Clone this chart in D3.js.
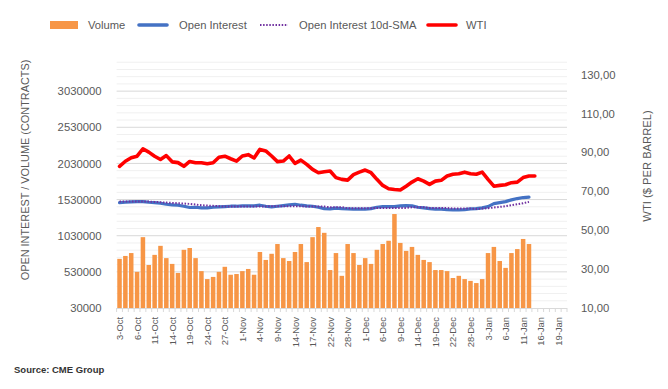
<!DOCTYPE html>
<html>
<head>
<meta charset="utf-8">
<script src="https://cdn.jsdelivr.net/npm/d3@7/dist/d3.min.js"></script>
<style>
  body { margin: 0; background: #fff; }
  text { font-family: "Liberation Sans", Arial, sans-serif; fill: #595959; }
</style>
</head>
<body>
<div id="chart"></div>
<script>
// trading days shown on the category axis
var dates = ["3-Oct","4-Oct","5-Oct","6-Oct","7-Oct","10-Oct","11-Oct","12-Oct","13-Oct","14-Oct",
  "17-Oct","18-Oct","19-Oct","20-Oct","21-Oct","24-Oct","25-Oct","26-Oct","27-Oct","28-Oct","31-Oct",
  "1-Nov","2-Nov","3-Nov","4-Nov","7-Nov","8-Nov","9-Nov","10-Nov","11-Nov","14-Nov","15-Nov","16-Nov",
  "17-Nov","18-Nov","21-Nov","22-Nov","23-Nov","25-Nov","28-Nov","29-Nov","30-Nov",
  "1-Dec","2-Dec","5-Dec","6-Dec","7-Dec","8-Dec","9-Dec","12-Dec","13-Dec","14-Dec","15-Dec","16-Dec",
  "19-Dec","20-Dec","21-Dec","22-Dec","23-Dec","27-Dec","28-Dec","29-Dec","30-Dec",
  "3-Jan","4-Jan","5-Jan","6-Jan","9-Jan","10-Jan","11-Jan","12-Jan","13-Jan","16-Jan","17-Jan",
  "18-Jan","19-Jan","20-Jan"];

var volume = [710000,750000,790000,530000,1010000,625000,765000,890000,720000,640000,
  515000,835000,860000,720000,540000,430000,460000,530000,600000,490000,
  500000,540000,570000,490000,805000,695000,780000,915000,720000,680000,
  805000,915000,665000,1010000,1150000,1070000,555000,790000,475000,915000,
  790000,625000,720000,640000,835000,915000,960000,1330000,930000,820000,
  875000,765000,695000,665000,555000,555000,540000,445000,475000,430000,
  405000,375000,430000,790000,875000,680000,585000,790000,845000,985000,915000];

var openInterest = [1488000,1493000,1498000,1502000,1502000,1493000,1488000,1479000,1465000,1457000,
  1452000,1438000,1420000,1424000,1415000,1415000,1424000,1429000,1433000,1438000,
  1438000,1443000,1443000,1443000,1452000,1438000,1429000,1438000,1447000,1457000,
  1465000,1452000,1443000,1438000,1424000,1405000,1401000,1412000,1405000,1401000,
  1397000,1397000,1397000,1405000,1424000,1433000,1433000,1433000,1443000,1447000,
  1443000,1424000,1415000,1405000,1397000,1397000,1390000,1387000,1387000,1392000,
  1401000,1405000,1415000,1433000,1475000,1488000,1502000,1526000,1544000,1558000,1563000];

var oiSma = [1502000,1502000,1502000,1502000,1502000,1502000,1498000,1493000,1488000,1484000,
  1479000,1475000,1470000,1461000,1452000,1447000,1443000,1438000,1433000,1433000,
  1433000,1433000,1433000,1433000,1433000,1433000,1438000,1438000,1438000,1438000,
  1438000,1438000,1433000,1433000,1433000,1433000,1424000,1424000,1424000,1410000,
  1410000,1410000,1410000,1410000,1415000,1415000,1415000,1415000,1415000,1415000,
  1424000,1424000,1424000,1415000,1415000,1415000,1415000,1405000,1405000,1405000,
  1405000,1401000,1405000,1410000,1420000,1429000,1438000,1452000,1465000,1479000,1498000];

var wti = [82.8,85.4,87.2,88.0,91.8,90.1,88.0,86.3,88.3,85.1,
  84.7,82.8,85.3,84.6,84.6,84.1,84.6,87.5,88.0,86.7,
  85.5,88.1,88.8,87.1,91.5,90.7,88.1,85.2,85.5,88.1,
  84.3,86.0,83.8,81.2,79.5,80.0,80.4,77.0,76.1,75.7,
  78.5,79.8,80.9,79.5,76.1,73.0,71.3,70.9,70.6,72.6,
  74.7,76.4,75.2,73.5,75.2,75.6,77.8,78.7,79.0,79.8,
  79.0,78.7,79.8,76.1,72.6,73.0,73.3,74.4,74.7,77.0,77.8,77.8];

var leftTicks = [30000,530000,1030000,1530000,2030000,2530000,3030000];
var rightTicks = [10,30,50,70,90,110,130];

var width = 668, height = 389;
var plot = {left: 116.6, right: 567, top: 55, bottom: 308};

var svg = d3.select("#chart").append("svg")
  .attr("width", width)
  .attr("height", height);

// ---------------------------//
//       SCALES               //
// ---------------------------//
var x = d3.scaleBand()
  .domain(d3.range(dates.length))
  .range([plot.left, plot.right])
  .paddingInner(0.23)
  .paddingOuter(0.115);
var cx = function(i) { return x(i) + x.bandwidth() / 2; };

var yL = d3.scaleLinear().domain([30000, 3530000]).range([plot.bottom, plot.top]);
var yR = d3.scaleLinear().domain([10, 140]).range([plot.bottom, plot.top]);

// gridlines, minor every 100000, major every 500000
var grid = d3.range(130000, 3500000, 100000);
svg.append("g").selectAll("line")
  .data(grid)
  .enter().append("line")
  .attr("x1", plot.left).attr("x2", plot.right)
  .attr("y1", d => yL(d)).attr("y2", d => yL(d))
  .attr("stroke", d => (d - 30000) % 500000 === 0 ? "#d9d9d9" : "#f0f0f0")
  .attr("stroke-width", 1);

// ---------------------------//
//       BARS + LINES         //
// ---------------------------//
svg.append("g").selectAll("rect")
  .data(volume)
  .enter().append("rect")
  .attr("x", (d, i) => x(i))
  .attr("width", x.bandwidth())
  .attr("y", d => yL(d))
  .attr("height", d => plot.bottom - yL(d))
  .attr("fill", "#f79646");

var lineL = d3.line().x((d, i) => cx(i)).y(d => yL(d));
var lineR = d3.line().x((d, i) => cx(i)).y(d => yR(d));

svg.append("path")
  .attr("d", lineL(openInterest))
  .attr("fill", "none").attr("stroke", "#4472c4")
  .attr("stroke-width", 3.2).attr("stroke-linejoin", "round").attr("stroke-linecap", "round");

svg.append("path")
  .attr("d", lineL(oiSma))
  .attr("fill", "none").attr("stroke", "#7030a0")
  .attr("stroke-width", 2).attr("stroke-dasharray", "1.5,1.6");

svg.append("path")
  .attr("d", lineR(wti))
  .attr("fill", "none").attr("stroke", "#ff0000")
  .attr("stroke-width", 3.6).attr("stroke-linejoin", "round").attr("stroke-linecap", "round");

// ---------------------------//
//       AXES                 //
// ---------------------------//
svg.append("line")
  .attr("x1", plot.left).attr("x2", plot.right)
  .attr("y1", plot.bottom + 0.5).attr("y2", plot.bottom + 0.5)
  .attr("stroke", "#d9d9d9");

svg.append("g").selectAll("line")
  .data(d3.range(dates.length + 1))
  .enter().append("line")
  .attr("x1", i => plot.left + i * x.step()).attr("x2", i => plot.left + i * x.step())
  .attr("y1", plot.bottom).attr("y2", plot.bottom + 4)
  .attr("stroke", "#d9d9d9");

svg.append("g").selectAll("text")
  .data(dates.map((d, i) => i).filter(i => i % 3 === 0))
  .enter().append("text")
  .attr("transform", i => "translate(" + cx(i) + "," + (plot.bottom + 9) + ") rotate(-90)")
  .attr("text-anchor", "end")
  .attr("dominant-baseline", "central")
  .style("font-size", "9.4px")
  .text(i => dates[i]);

var gL = svg.append("g")
  .attr("transform", "translate(" + (plot.left - 12) + ",0)")
  .call(d3.axisLeft(yL).tickValues(leftTicks).tickSize(0).tickFormat(d3.format("d")));
var gR = svg.append("g")
  .attr("transform", "translate(" + (plot.right + 11) + ",0)")
  .call(d3.axisRight(yR).tickValues(rightTicks).tickSize(0).tickFormat(d => d3.format(".2f")(d).replace(".", ",")));
[gL, gR].forEach(function(g) {
  g.select(".domain").remove();
  g.selectAll("text")
    .attr("fill", "#595959")
    .style("font-size", "11.3px")
    .style("font-family", "'Liberation Sans', Arial, sans-serif");
});

svg.append("text")
  .attr("transform", "translate(25," + 170 + ") rotate(-90)")
  .attr("text-anchor", "middle").attr("dominant-baseline", "central")
  .style("font-size", "10.9px")
  .text("OPEN INTEREST / VOLUME (CONTRACTS)");

svg.append("text")
  .attr("transform", "translate(647," + 166 + ") rotate(-90)")
  .attr("text-anchor", "middle").attr("dominant-baseline", "central")
  .style("font-size", "11.2px")
  .text("WTI ($ PER BARREL)");

// ---------------------------//
//       LEGEND               //
// ---------------------------//
var legend = [
  {name: "Volume", type: "bar", color: "#f79646", x: 50, tx: 88},
  {name: "Open Interest", type: "line", color: "#4472c4", x: 138, tx: 179},
  {name: "Open Interest 10d-SMA", type: "dot", color: "#7030a0", x: 259, tx: 299},
  {name: "WTI", type: "line", color: "#ff0000", x: 427, tx: 466}
];
var lg = svg.append("g").selectAll("g").data(legend).enter().append("g");
lg.filter(d => d.type === "bar").append("rect")
  .attr("x", d => d.x).attr("y", 21).attr("width", 28).attr("height", 8)
  .attr("fill", d => d.color);
lg.filter(d => d.type !== "bar").append("line")
  .attr("x1", d => d.x + 1).attr("x2", d => d.x + 29)
  .attr("y1", 25).attr("y2", 25)
  .attr("stroke", d => d.color)
  .attr("stroke-width", d => d.type === "dot" ? 2 : 3.6)
  .attr("stroke-linecap", d => d.type === "dot" ? "butt" : "round")
  .attr("stroke-dasharray", d => d.type === "dot" ? "1.5,1.6" : null);
lg.append("text")
  .attr("x", d => d.tx).attr("y", 25)
  .attr("dominant-baseline", "central")
  .style("font-size", "11.2px")
  .text(d => d.name);

svg.append("text")
  .attr("x", 14).attr("y", 373)
  .style("font-size", "9.5px").style("font-weight", "bold")
  .attr("fill", "#333").style("fill", "#333")
  .text("Source: CME Group");
</script>
</body>
</html>
